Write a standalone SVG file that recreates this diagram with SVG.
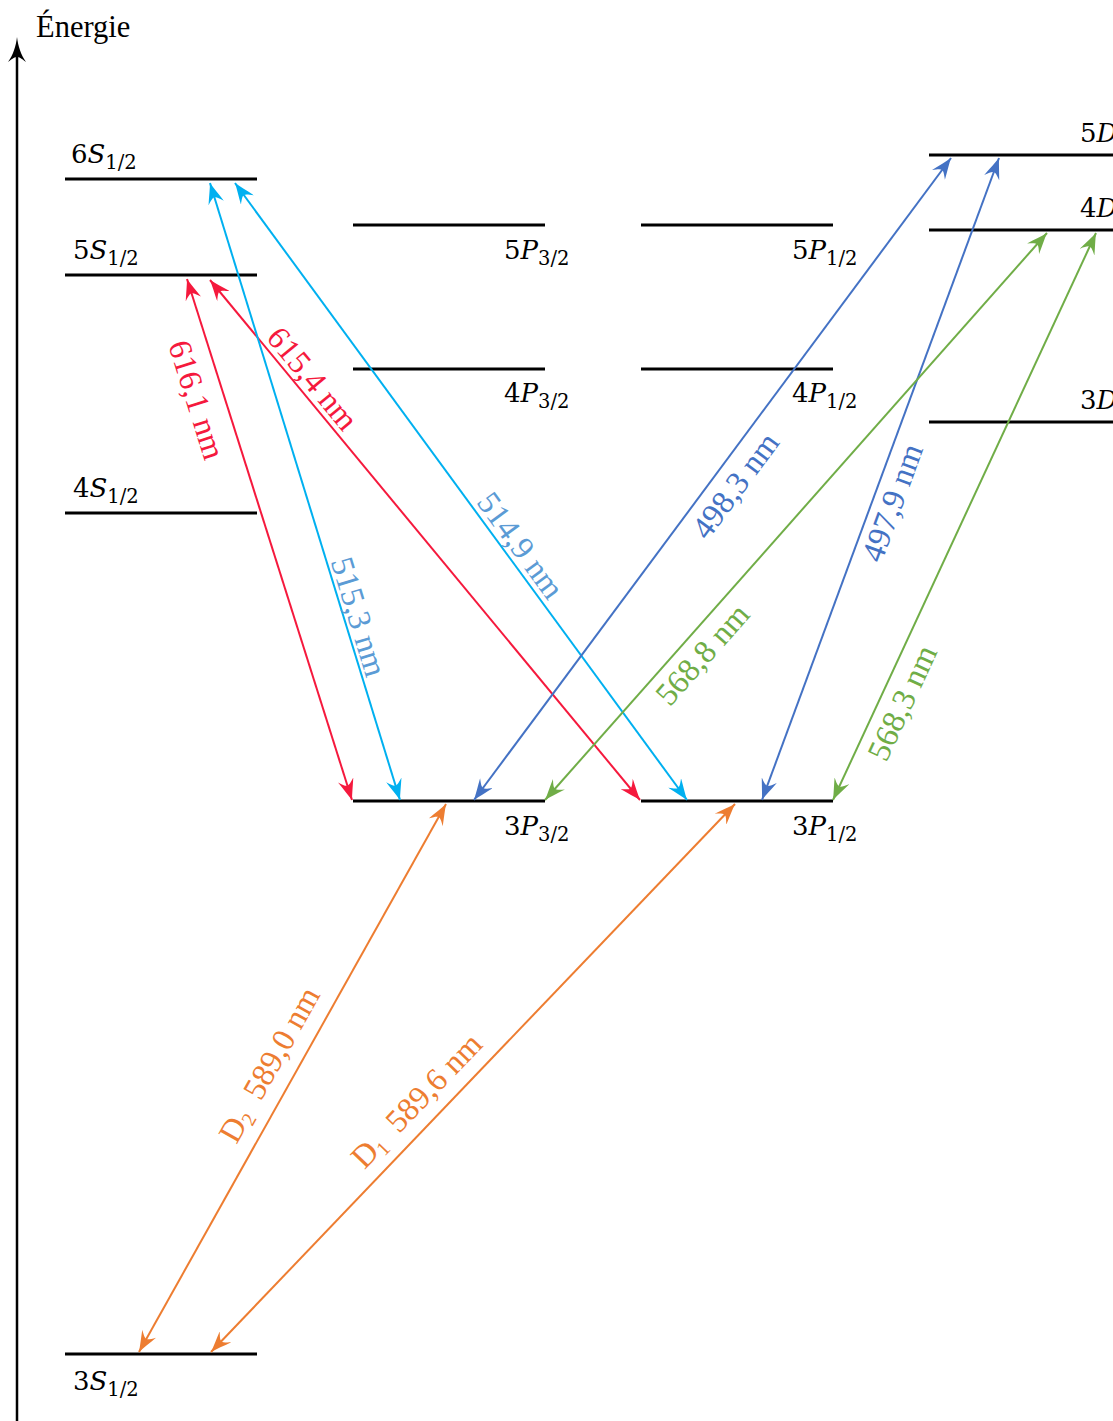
<svg xmlns="http://www.w3.org/2000/svg" width="1113" height="1421" viewBox="0 0 1113 1421">
<style>
.lvl{stroke:#000;stroke-width:3.2;fill:none}
.ll{font-family:"DejaVu Serif","Liberation Serif",serif;font-size:26px;fill:#000}
.it{font-style:italic}
.sb{font-size:19.5px}
.ar{fill:none;stroke-width:2}
.wl{font-family:"Liberation Serif",serif;font-size:32.5px}
</style>
<defs>
<marker id="mr" markerUnits="userSpaceOnUse" markerWidth="24" markerHeight="16" refX="22" refY="8" orient="auto-start-reverse"><path d="M22,8 C16,10 9,13 1,16 C5,12 7,10 7,8 C7,6 5,4 1,0 C9,3 16,6 22,8 Z" fill="#F5193D"/></marker>
<marker id="mc" markerUnits="userSpaceOnUse" markerWidth="24" markerHeight="16" refX="22" refY="8" orient="auto-start-reverse"><path d="M22,8 C16,10 9,13 1,16 C5,12 7,10 7,8 C7,6 5,4 1,0 C9,3 16,6 22,8 Z" fill="#00B0F0"/></marker>
<marker id="mb" markerUnits="userSpaceOnUse" markerWidth="24" markerHeight="16" refX="22" refY="8" orient="auto-start-reverse"><path d="M22,8 C16,10 9,13 1,16 C5,12 7,10 7,8 C7,6 5,4 1,0 C9,3 16,6 22,8 Z" fill="#4472C4"/></marker>
<marker id="mg" markerUnits="userSpaceOnUse" markerWidth="24" markerHeight="16" refX="22" refY="8" orient="auto-start-reverse"><path d="M22,8 C16,10 9,13 1,16 C5,12 7,10 7,8 C7,6 5,4 1,0 C9,3 16,6 22,8 Z" fill="#70AD47"/></marker>
<marker id="mo" markerUnits="userSpaceOnUse" markerWidth="24" markerHeight="16" refX="22" refY="8" orient="auto-start-reverse"><path d="M22,8 C16,10 9,13 1,16 C5,12 7,10 7,8 C7,6 5,4 1,0 C9,3 16,6 22,8 Z" fill="#ED7D31"/></marker>
</defs>
<rect width="1113" height="1421" fill="#fff"/>

<g id="axis">
<line x1="17" y1="1421" x2="17" y2="50" stroke="#000" stroke-width="2.5"/>
<path d="M17,37 C18,46 21,55 26,62 C21,58 19,57 17,57 C15,57 13,58 8,62 C13,55 16,46 17,37 Z" fill="#000"/>
<text x="36" y="37" font-family="Liberation Serif,serif" font-size="30.5">Énergie</text>
</g>

<g id="level-6S"><line class="lvl" x1="65" y1="179" x2="257" y2="179"/><text class="ll" x="71" y="163">6<tspan class="it">S</tspan><tspan class="sb" dy="6">1/2</tspan></text></g>
<g id="level-5S"><line class="lvl" x1="65" y1="275" x2="257" y2="275"/><text class="ll" x="73" y="259">5<tspan class="it">S</tspan><tspan class="sb" dy="6">1/2</tspan></text></g>
<g id="level-4S"><line class="lvl" x1="65" y1="513" x2="257" y2="513"/><text class="ll" x="73" y="497">4<tspan class="it">S</tspan><tspan class="sb" dy="6">1/2</tspan></text></g>
<g id="level-3S"><line class="lvl" x1="65" y1="1354" x2="257" y2="1354"/><text class="ll" x="73" y="1390">3<tspan class="it">S</tspan><tspan class="sb" dy="6">1/2</tspan></text></g>
<g id="level-5P32"><line class="lvl" x1="353" y1="225" x2="545" y2="225"/><text class="ll" x="504" y="259">5<tspan class="it">P</tspan><tspan class="sb" dy="6">3/2</tspan></text></g>
<g id="level-4P32"><line class="lvl" x1="353" y1="369" x2="545" y2="369"/><text class="ll" x="504" y="402">4<tspan class="it">P</tspan><tspan class="sb" dy="6">3/2</tspan></text></g>
<g id="level-3P32"><line class="lvl" x1="353" y1="801" x2="545" y2="801"/><text class="ll" x="504" y="835">3<tspan class="it">P</tspan><tspan class="sb" dy="6">3/2</tspan></text></g>
<g id="level-5P12"><line class="lvl" x1="641" y1="225" x2="833" y2="225"/><text class="ll" x="792" y="259">5<tspan class="it">P</tspan><tspan class="sb" dy="6">1/2</tspan></text></g>
<g id="level-4P12"><line class="lvl" x1="641" y1="369" x2="833" y2="369"/><text class="ll" x="792" y="402">4<tspan class="it">P</tspan><tspan class="sb" dy="6">1/2</tspan></text></g>
<g id="level-3P12"><line class="lvl" x1="641" y1="801" x2="833" y2="801"/><text class="ll" x="792" y="835">3<tspan class="it">P</tspan><tspan class="sb" dy="6">1/2</tspan></text></g>
<g id="level-5D"><line class="lvl" x1="929" y1="155" x2="1113" y2="155"/><text class="ll" x="1080" y="142">5<tspan class="it">D</tspan></text></g>
<g id="level-4D"><line class="lvl" x1="929" y1="230" x2="1113" y2="230"/><text class="ll" x="1080" y="217">4<tspan class="it">D</tspan></text></g>
<g id="level-3D"><line class="lvl" x1="929" y1="422" x2="1113" y2="422"/><text class="ll" x="1080" y="409">3<tspan class="it">D</tspan></text></g>

<g id="connectors">
<line class="ar" stroke="#F5193D" marker-start="url(#mr)" marker-end="url(#mr)" x1="187" y1="279" x2="352" y2="800"/>
<line class="ar" stroke="#F5193D" marker-start="url(#mr)" marker-end="url(#mr)" x1="210" y1="280" x2="640" y2="800"/>
<line class="ar" stroke="#00B0F0" marker-start="url(#mc)" marker-end="url(#mc)" x1="210" y1="183" x2="400" y2="800"/>
<line class="ar" stroke="#00B0F0" marker-start="url(#mc)" marker-end="url(#mc)" x1="235" y1="183" x2="687" y2="800"/>
<line class="ar" stroke="#4472C4" marker-start="url(#mb)" marker-end="url(#mb)" x1="474" y1="800" x2="951" y2="158"/>
<line class="ar" stroke="#4472C4" marker-start="url(#mb)" marker-end="url(#mb)" x1="762" y1="800" x2="999" y2="158"/>
<line class="ar" stroke="#70AD47" marker-start="url(#mg)" marker-end="url(#mg)" x1="545" y1="800" x2="1047" y2="233"/>
<line class="ar" stroke="#70AD47" marker-start="url(#mg)" marker-end="url(#mg)" x1="833" y1="800" x2="1096" y2="233"/>
<line class="ar" stroke="#ED7D31" marker-start="url(#mo)" marker-end="url(#mo)" x1="139" y1="1352" x2="446" y2="804"/>
<line class="ar" stroke="#ED7D31" marker-start="url(#mo)" marker-end="url(#mo)" x1="211" y1="1352" x2="735" y2="804"/>

<text class="wl" fill="#F5193D" text-anchor="middle" transform="translate(196,400) rotate(72.5)" y="10">616,1 nm</text>
<text class="wl" fill="#F5193D" text-anchor="middle" transform="translate(312,379) rotate(50.5)" y="10">615,4 nm</text>
<text class="wl" fill="#5B9BD5" text-anchor="middle" transform="translate(358,617) rotate(72.9)" y="10">515,3 nm</text>
<text class="wl" fill="#5B9BD5" text-anchor="middle" transform="translate(520,546) rotate(53.8)" y="10">514,9 nm</text>
<text class="wl" fill="#4472C4" text-anchor="middle" transform="translate(736,486) rotate(-53.4)" y="10">498,3 nm</text>
<text class="wl" fill="#4472C4" text-anchor="middle" transform="translate(893,503) rotate(-69.8)" y="10">497,9 nm</text>
<text class="wl" fill="#70AD47" text-anchor="middle" transform="translate(703,655) rotate(-48.5)" y="10">568,8 nm</text>
<text class="wl" fill="#70AD47" text-anchor="middle" transform="translate(903,703) rotate(-65.2)" y="10">568,3 nm</text>
<text class="wl" fill="#ED7D31" text-anchor="middle" transform="translate(270,1065) rotate(-60.7)" y="10">D<tspan font-size="20" dy="5">2</tspan><tspan dy="-5">&#160; 589,0 nm</tspan></text>
<text class="wl" fill="#ED7D31" text-anchor="middle" transform="translate(417,1101) rotate(-46.2)" y="10">D<tspan font-size="20" dy="5">1</tspan><tspan dy="-5">&#160; 589,6 nm</tspan></text>
</g>
</svg>
